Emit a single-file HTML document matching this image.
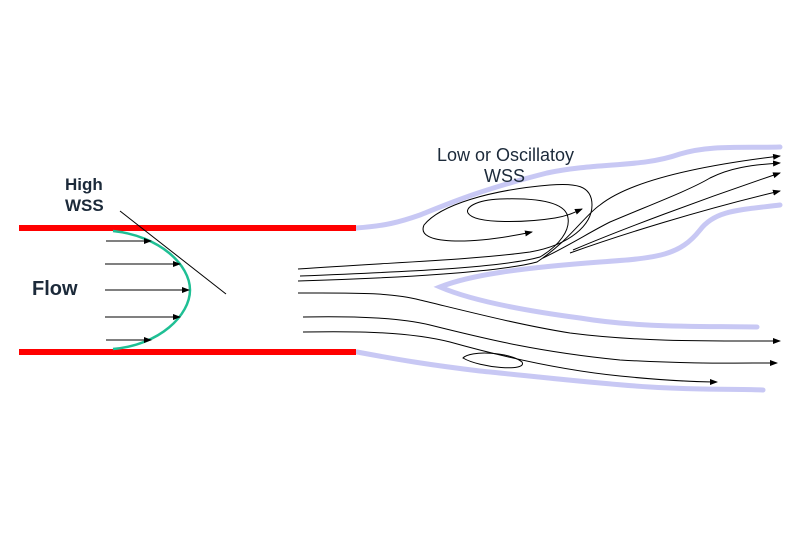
<!DOCTYPE html>
<html><head><meta charset="utf-8"><style>
html,body{margin:0;padding:0;background:#fff;width:810px;height:540px;overflow:hidden}
svg{display:block}
text{font-family:"Liberation Sans",Arial,sans-serif;fill:#1c2a3a}
</style></head><body>
<svg width="810" height="540" viewBox="0 0 810 540" xmlns="http://www.w3.org/2000/svg">
<defs>
<marker id="a" markerWidth="8" markerHeight="6" refX="7" refY="3" orient="auto" markerUnits="userSpaceOnUse">
<path d="M0,0 L8,3 L0,6 Z" fill="#000"/></marker>
</defs>
<g fill="none" stroke="#c8c8f4" stroke-width="5" stroke-linecap="round">
<path d="M356,228 C385,226 400,222 420,215 C450,203 480,190 547,173 C600,162 640,168 680,154 C710,145 740,148 780,147"/>
<path d="M780,205 C740,210 715,210 700,230 C680,255 660,258 600,262 C520,268 470,275 440,287 C470,300 520,310 580,318 C640,328 700,326 757,327"/>
<path d="M357,352 C400,360 430,365 480,371 C540,377 600,384 650,387 C700,390 740,389 763,390"/>
</g>
<g stroke="#ff0000" stroke-width="6">
<line x1="19" y1="228" x2="356" y2="228"/>
<line x1="19" y1="352" x2="356" y2="352"/>
</g>
<path d="M113,231 C160,236 190,265 190,290 C190,315 160,345 113,349" fill="none" stroke="#1fbf94" stroke-width="2.5"/>
<line x1="120" y1="211" x2="226" y2="294" stroke="#000" stroke-width="1"/>
<g stroke="#000" stroke-width="1" marker-end="url(#a)">
<line x1="106" y1="241" x2="151" y2="241"/>
<line x1="105" y1="264" x2="180" y2="264"/>
<line x1="105" y1="290" x2="189" y2="290"/>
<line x1="105" y1="317" x2="180" y2="317"/>
<line x1="106" y1="340" x2="151" y2="340"/>
</g>
<text x="65" y="190" font-size="17" font-weight="bold">High</text>
<text x="65" y="211" font-size="17" font-weight="bold">WSS</text>
<text x="32" y="295" font-size="20" font-weight="bold">Flow</text>
<text x="437" y="161" font-size="18">Low or Oscillatoy</text>
<text x="484" y="182" font-size="18">WSS</text>
<g fill="none" stroke="#000" stroke-width="1">
<path d="M298,269 C400,262 470,260 530,252 C570,245 592,225 592,205 C592,185 575,183 550,185 C490,190 440,205 424,225 C415,245 470,245 532,232" marker-end="url(#a)"/>
<path d="M300,276 C400,272 500,268 540,257 C560,245 570,230 568,218 C566,200 530,198 500,199 C475,200 465,208 468,213 C475,225 530,222 555,218 C568,216 575,212 582,209" marker-end="url(#a)"/>
<path d="M298,281 C400,278 500,272 537,262 C570,240 585,215 600,205 C625,185 680,168 780,156" marker-end="url(#a)"/>
<path d="M543,258 C570,245 590,232 610,222 C650,205 690,190 710,178 C730,168 750,165 780,163" marker-end="url(#a)"/>
<path d="M573,250 C620,230 700,200 780,173" marker-end="url(#a)"/>
<path d="M570,253 C620,235 700,210 780,191" marker-end="url(#a)"/>
<path d="M298,293 C350,293 390,292 420,300 C470,312 520,325 570,333 C640,342 710,341 780,341" marker-end="url(#a)"/>
<path d="M303,317 C360,316 400,318 430,325 C490,340 540,352 620,360 C690,364 730,363 777,363" marker-end="url(#a)"/>
<path d="M303,332 C360,331 410,332 450,342 C500,356 560,370 620,376 C660,380 690,382 717,382" marker-end="url(#a)"/>
<path d="M463,358 C470,350 510,352 522,362 C528,372 480,368 463,358 Z"/>
</g>
</svg>
</body></html>
